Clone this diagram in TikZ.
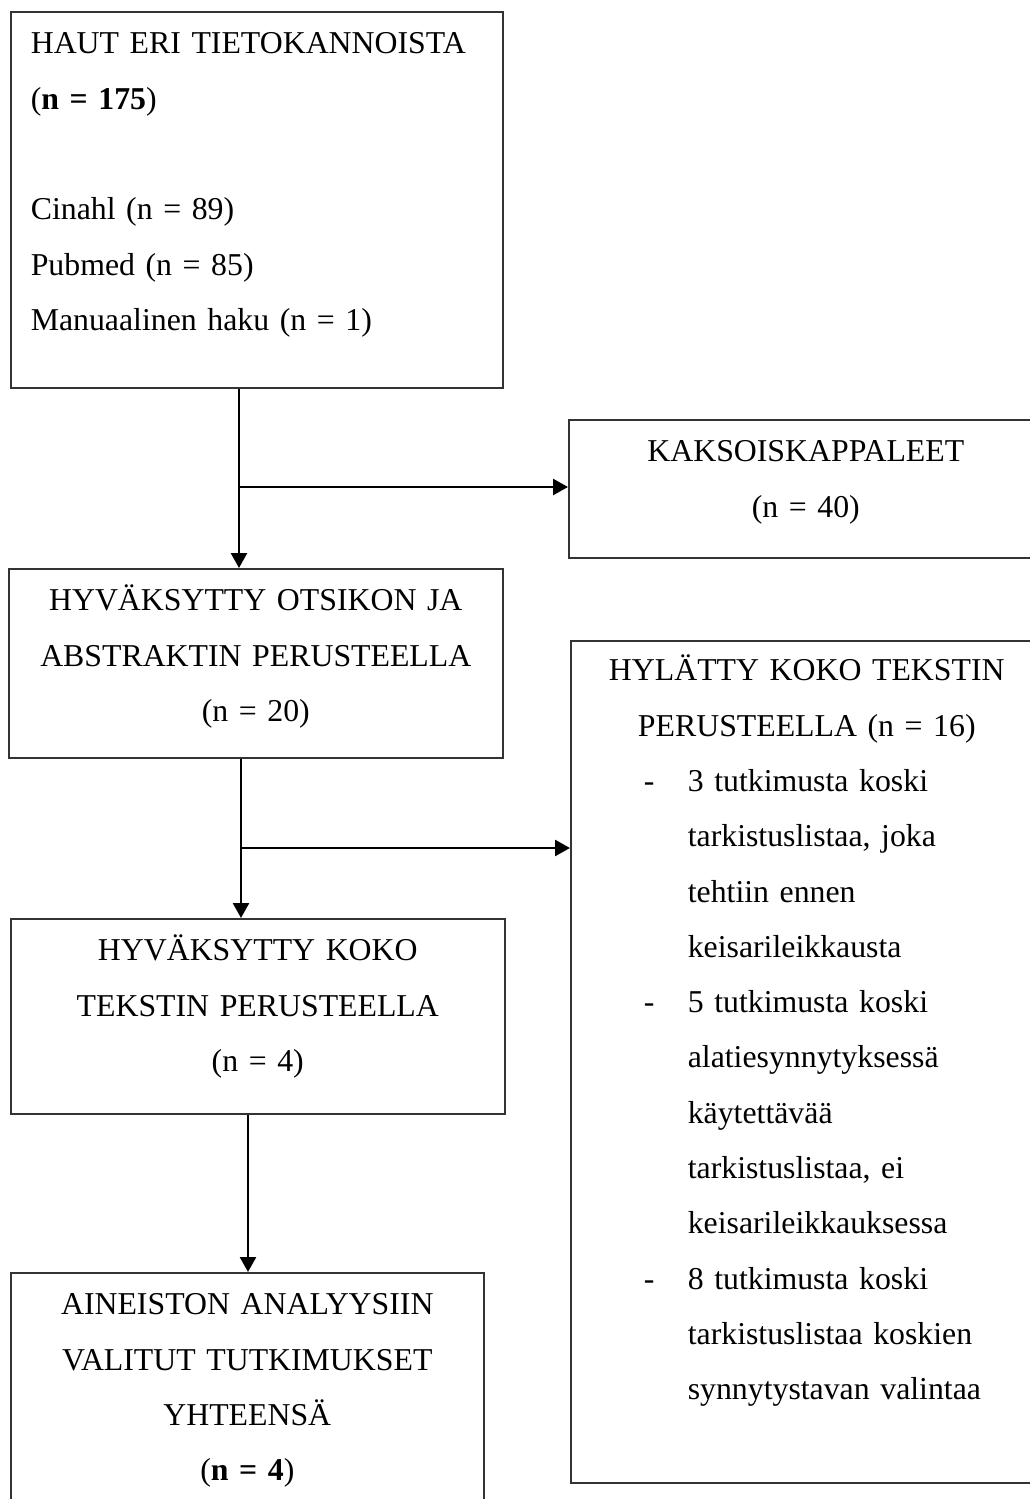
\documentclass[tikz,border=0pt]{standalone}
\usepackage{fontspec}
\setmainfont{Liberation Serif}
\usetikzlibrary{arrows.meta,calc}
\newcommand{\hyldash}[1]{\makebox[44pt][l]{-}\mbox{#1}}
\newcommand{\hylrest}[1]{\hspace*{44pt}\mbox{#1}}
\begin{document}
\begin{tikzpicture}[x=1pt,y=-1pt,
    font=\fontsize{31.8}{55.3}\selectfont,
    box/.style={draw=black!80,line width=1.6pt,anchor=north west,
      inner xsep=20pt,inner ysep=0pt,text height=42pt},
    arr/.style={line width=2.6pt,-{Triangle[length=15pt,width=16pt]}}]
  \useasboundingbox (0,0) rectangle (1030,1499);
  \clip (0,0) rectangle (1030,1499);
  \node[box,text width=452pt,text depth=334pt,align=left] (haut) at (10,11)
    {HAUT ERI TIETOKANNOISTA\\(\textbf{n = 175})\\[55.3pt]Cinahl (n = 89)\\Pubmed (n = 85)\\Manuaalinen haku (n = 1)};
  \node[box,text width=434pt,text depth=96pt,align=center] (kaksois) at (568,419)
    {KAKSOISKAPPALEET\\(n = 40)};
  \node[box,text width=454pt,text depth=147pt,align=center] (otsikko) at (8,568)
    {HYVÄKSYTTY OTSIKON JA\\ABSTRAKTIN PERUSTEELLA\\(n = 20)};
  \node[box,inner xsep=73pt,text width=326pt,text height=40pt,text depth=802pt,align=left] (hylatty) at (570,640)
    {\makebox[\linewidth]{HYLÄTTY KOKO TEKSTIN}\\
     \makebox[\linewidth]{PERUSTEELLA (n = 16)}\\
     \hyldash{3 tutkimusta koski}\\
     \hylrest{tarkistuslistaa, joka}\\
     \hylrest{tehtiin ennen}\\
     \hylrest{keisarileikkausta}\\
     \hyldash{5 tutkimusta koski}\\
     \hylrest{alatiesynnytyksessä}\\
     \hylrest{käytettävää}\\
     \hylrest{tarkistuslistaa, ei}\\
     \hylrest{keisarileikkauksessa}\\
     \hyldash{8 tutkimusta koski}\\
     \hylrest{tarkistuslistaa koskien}\\
     \hylrest{synnytystavan valintaa}};
  \node[box,text width=454pt,text depth=153pt,align=center] (koko) at (10,918)
    {HYVÄKSYTTY KOKO\\TEKSTIN PERUSTEELLA\\(n = 4)};
  \node[box,text width=433pt,text depth=206pt,align=center] (aineisto) at (10,1272)
    {AINEISTON ANALYYSIIN\\VALITUT TUTKIMUKSET\\YHTEENSÄ\\(\textbf{n = 4})};
  \coordinate (j1) at (239,487);
  \coordinate (j2) at (241,848);
  \coordinate (j3) at (248,1190);
  \draw[arr] (haut.south -| j1) -- (otsikko.north -| j1);
  \draw[arr] (j1) -- (j1 -| kaksois.west);
  \draw[arr] (otsikko.south -| j2) -- (koko.north -| j2);
  \draw[arr] (j2) -- (j2 -| hylatty.west);
  \draw[arr] (koko.south -| j3) -- (aineisto.north -| j3);
\end{tikzpicture}
\end{document}
